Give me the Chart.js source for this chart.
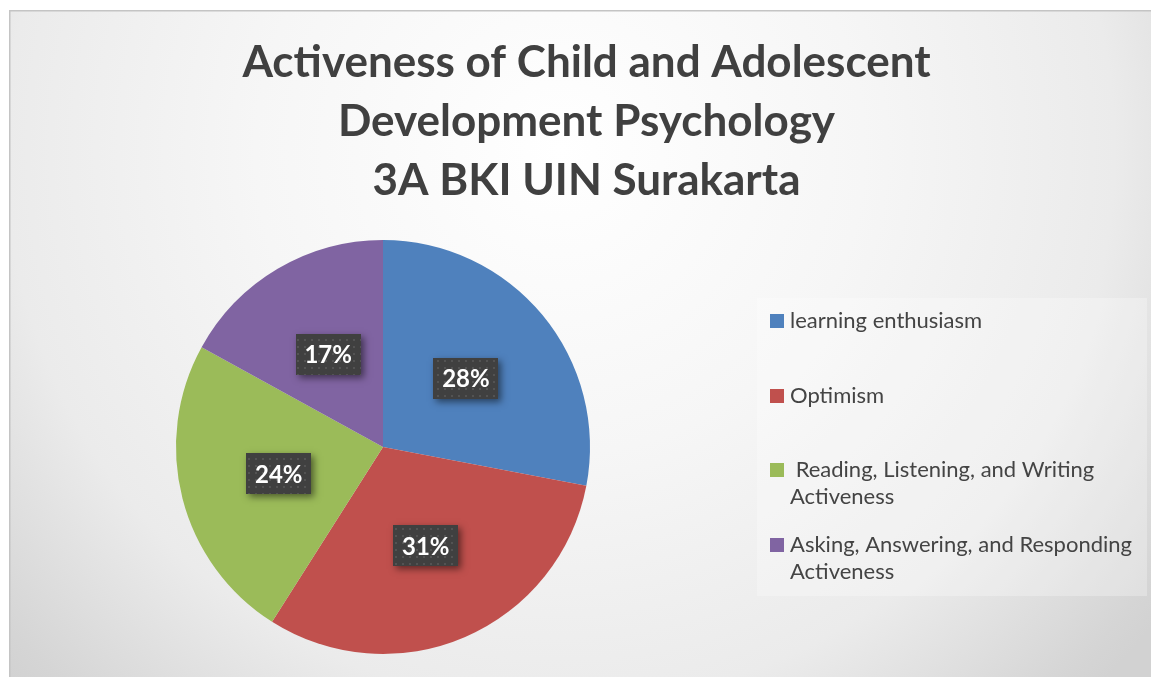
<!DOCTYPE html>
<html>
<head>
<meta charset="utf-8">
<script src="https://cdn.jsdelivr.net/npm/chart.js@4/dist/chart.umd.min.js"></script>
<style>
  html, body { margin: 0; padding: 0; background: #fff; overflow: hidden; }
</style>
</head>
<body>
<canvas id="pieChart" width="1151" height="677"></canvas>
<script>
const titleLines = ['Activeness of Child and Adolescent', 'Development Psychology', '3A BKI UIN Surakarta'];
const categories = ['learning enthusiasm', 'Optimism', ' Reading, Listening, and Writing Activeness', 'Asking, Answering, and Responding Activeness'];
const values = [28, 31, 24, 17];
const colors = ['#4f81bd', '#c0504d', '#9bbb59', '#8064a2'];

const FONT = 'Lato, "Open Sans", sans-serif';

// grey radial backdrop + thin frame
const backdrop = {
  id: 'backdrop',
  beforeDraw(chart) {
    const { ctx, width: w, height: h } = chart;
    ctx.save();
    ctx.fillStyle = '#fff';
    ctx.fillRect(0, 0, w, h);
    const g = ctx.createRadialGradient(560, 150, 0, 560, 150, 760);
    g.addColorStop(0, '#ffffff');
    g.addColorStop(0.4, '#f6f6f6');
    g.addColorStop(0.73, '#ebebeb');
    g.addColorStop(0.96, '#d5d5d5');
    g.addColorStop(1, '#d2d2d2');
    ctx.fillStyle = g;
    ctx.fillRect(10, 10, w - 10, h - 10);
    ctx.strokeStyle = '#c4c4c4';
    ctx.lineWidth = 1.5;
    ctx.beginPath();
    ctx.moveTo(9.75, h);
    ctx.lineTo(9.75, 10.75);
    ctx.lineTo(w, 10.75);
    ctx.stroke();
    ctx.restore();
  }
};

// dotted fill for the label boxes
const dotTile = document.createElement('canvas');
dotTile.width = 7; dotTile.height = 7;
const dctx = dotTile.getContext('2d');
dctx.fillStyle = 'rgba(255,255,255,0.10)';
dctx.fillRect(3, 3, 2, 2);

const sliceLabels = {
  id: 'sliceLabels',
  afterDatasetsDraw(chart) {
    const ctx = chart.ctx;
    const meta = chart.getDatasetMeta(0);
    const total = values.reduce((a, b) => a + b, 0);
    const pattern = ctx.createPattern(dotTile, 'repeat');
    meta.data.forEach((arc, i) => {
      const { x, y, startAngle, endAngle, outerRadius } = arc.getProps(['x', 'y', 'startAngle', 'endAngle', 'outerRadius'], true);
      const mid = (startAngle + endAngle) / 2;
      const r = outerRadius * 0.52;
      const cx = x + Math.cos(mid) * r;
      const cy = y + Math.sin(mid) * r;
      const text = Math.round(values[i] / total * 100) + '%';
      ctx.save();
      ctx.font = 'bold 24px ' + FONT;
      const bw = Math.round(ctx.measureText(text).width + 17);
      const bh = 41;
      const bx = Math.round(cx - bw / 2), by = Math.round(cy - bh / 2);
      ctx.shadowColor = 'rgba(0,0,0,0.5)';
      ctx.shadowBlur = 7;
      ctx.shadowOffsetX = 3;
      ctx.shadowOffsetY = 3;
      ctx.fillStyle = '#404040';
      ctx.fillRect(bx, by, bw, bh);
      ctx.shadowColor = 'transparent';
      ctx.fillStyle = pattern;
      ctx.fillRect(bx, by, bw, bh);
      ctx.fillStyle = '#ffffff';
      ctx.textAlign = 'center';
      ctx.textBaseline = 'middle';
      ctx.fillText(text, cx, cy + 1);
      ctx.restore();
    });
  }
};

function wrapText(ctx, text, maxW) {
  const words = text.split(' ');
  const lines = [];
  let line = words[0];
  for (let k = 1; k < words.length; k++) {
    const test = line + ' ' + words[k];
    if (ctx.measureText(test).width > maxW && line.trim() !== '') {
      lines.push(line);
      line = words[k];
    } else {
      line = test;
    }
  }
  lines.push(line);
  return lines;
}

// legend kept in its own layout box on the right
const sideLegend = {
  id: 'sideLegend',
  beforeInit(chart) {
    const box = {
      position: 'right',
      weight: 100,
      fullSize: false,
      options: {},
      top: 0, left: 0, right: 0, bottom: 0, width: 0, height: 0,
      isHorizontal() { return false; },
      update(maxWidth, maxHeight) {
        this.width = 407;
        this.height = maxHeight;
      },
      draw() {
        const ctx = chart.ctx;
        const L = this.left, T = this.top;
        ctx.save();
        ctx.fillStyle = 'rgba(255,255,255,0.28)';
        ctx.fillRect(L + 13, T + 58, 390, 298);
        ctx.font = '22px ' + FONT;
        ctx.textBaseline = 'middle';
        ctx.textAlign = 'left';
        chart.data.labels.forEach((label, i) => {
          const cy = T + 81 + i * 74.5;
          ctx.fillStyle = colors[i];
          ctx.fillRect(L + 26, Math.round(cy - 7), 14, 14);
          ctx.fillStyle = '#444444';
          wrapText(ctx, label, 354).forEach((ln, j) => {
            ctx.fillText(ln, L + 46, cy + j * 27);
          });
        });
        ctx.restore();
      }
    };
    Chart.layouts.addBox(chart, box);
  }
};

new Chart(document.getElementById('pieChart'), {
  type: 'pie',
  data: {
    labels: categories,
    datasets: [{
      data: values,
      backgroundColor: colors,
      borderWidth: 0
    }]
  },
  options: {
    responsive: false,
    animation: false,
    layout: { padding: { left: 22, right: 0, top: 0, bottom: 23 } },
    plugins: {
      legend: { display: false },
      tooltip: { enabled: false },
      title: {
        display: true,
        text: titleLines,
        color: '#404040',
        font: { family: FONT, size: 44, weight: 'bold', lineHeight: '59px' },
        padding: { top: 33, bottom: 30 }
      }
    }
  },
  plugins: [backdrop, sliceLabels, sideLegend]
});
</script>
</body>
</html>
